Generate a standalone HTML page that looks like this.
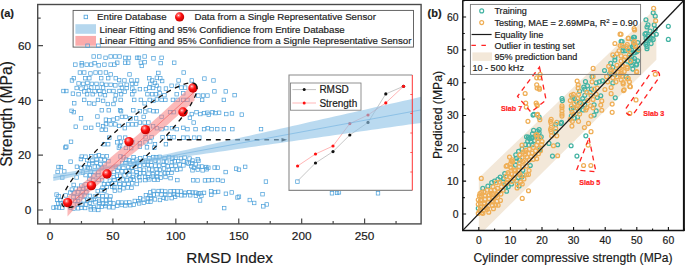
<!DOCTYPE html>
<html><head><meta charset="utf-8"><style>
html,body{margin:0;padding:0;background:#fff;}
svg{display:block;}
</style></head><body>
<svg xmlns="http://www.w3.org/2000/svg" width="685" height="265" viewBox="0 0 685 265">
<rect width="685" height="265" fill="#fff"/>
<defs>
<radialGradient id="sph" cx="0.38" cy="0.33" r="0.7">
<stop offset="0" stop-color="#fff"/>
<stop offset="0.12" stop-color="#ff8a8a"/>
<stop offset="0.45" stop-color="#ff1010"/>
<stop offset="1" stop-color="#c00000"/>
</radialGradient>
</defs>
<clipPath id="cl"><rect x="37.7" y="4.5" width="383.4" height="219.4"/></clipPath>
<g clip-path="url(#cl)" fill="none" stroke="#4ba0da" stroke-width="0.72"><rect x="91.91" y="54.74" width="3.5" height="3.5"/><rect x="97.57" y="54.74" width="3.5" height="3.5"/><rect x="103.8" y="56.06" width="3.5" height="3.5"/><rect x="108.89" y="54.74" width="3.5" height="3.5"/><rect x="113.61" y="54.74" width="3.5" height="3.5"/><rect x="117.76" y="54.74" width="3.5" height="3.5"/><rect x="123.42" y="56.06" width="3.5" height="3.5"/><rect x="127.19" y="56.06" width="3.5" height="3.5"/><rect x="135.31" y="56.06" width="3.5" height="3.5"/><rect x="73.61" y="62.85" width="3.5" height="3.5"/><rect x="80.02" y="61.34" width="3.5" height="3.5"/><rect x="80.02" y="63.61" width="3.5" height="3.5"/><rect x="84.93" y="62.85" width="3.5" height="3.5"/><rect x="89.46" y="62.85" width="3.5" height="3.5"/><rect x="92.85" y="61.34" width="3.5" height="3.5"/><rect x="97" y="63.61" width="3.5" height="3.5"/><rect x="102.67" y="62.85" width="3.5" height="3.5"/><rect x="108.89" y="62.85" width="3.5" height="3.5"/><rect x="112.67" y="62.85" width="3.5" height="3.5"/><rect x="115.5" y="60.97" width="3.5" height="3.5"/><rect x="123.42" y="60.97" width="3.5" height="3.5"/><rect x="126.44" y="60.97" width="3.5" height="3.5"/><rect x="78.14" y="70.78" width="3.5" height="3.5"/><rect x="82.48" y="70.78" width="3.5" height="3.5"/><rect x="88.7" y="71.72" width="3.5" height="3.5"/><rect x="93.8" y="70.78" width="3.5" height="3.5"/><rect x="98.51" y="70.78" width="3.5" height="3.5"/><rect x="104.17" y="70.78" width="3.5" height="3.5"/><rect x="108.89" y="72.67" width="3.5" height="3.5"/><rect x="127.76" y="72.67" width="3.5" height="3.5"/><rect x="72.1" y="76.44" width="3.5" height="3.5"/><rect x="70.21" y="78.7" width="3.5" height="3.5"/><rect x="83.42" y="76.44" width="3.5" height="3.5"/><rect x="87.57" y="76.44" width="3.5" height="3.5"/><rect x="99.46" y="76.44" width="3.5" height="3.5"/><rect x="106.44" y="76.44" width="3.5" height="3.5"/><rect x="113.99" y="76.44" width="3.5" height="3.5"/><rect x="117.38" y="78.33" width="3.5" height="3.5"/><rect x="122.67" y="78.7" width="3.5" height="3.5"/><rect x="129.65" y="78.7" width="3.5" height="3.5"/><rect x="135.31" y="78.7" width="3.5" height="3.5"/><rect x="76.82" y="81.72" width="3.5" height="3.5"/><rect x="81.53" y="82.1" width="3.5" height="3.5"/><rect x="85.68" y="81.16" width="3.5" height="3.5"/><rect x="90.02" y="82.1" width="3.5" height="3.5"/><rect x="94.74" y="82.1" width="3.5" height="3.5"/><rect x="100.02" y="82.1" width="3.5" height="3.5"/><rect x="104.55" y="83.04" width="3.5" height="3.5"/><rect x="108.89" y="83.04" width="3.5" height="3.5"/><rect x="113.61" y="83.61" width="3.5" height="3.5"/><rect x="118.89" y="83.04" width="3.5" height="3.5"/><rect x="124.93" y="83.04" width="3.5" height="3.5"/><rect x="130.21" y="82.1" width="3.5" height="3.5"/><rect x="134.36" y="82.1" width="3.5" height="3.5"/><rect x="74.93" y="86.25" width="3.5" height="3.5"/><rect x="79.65" y="86.82" width="3.5" height="3.5"/><rect x="84.36" y="85.87" width="3.5" height="3.5"/><rect x="89.46" y="85.87" width="3.5" height="3.5"/><rect x="95.68" y="85.87" width="3.5" height="3.5"/><rect x="101.34" y="85.87" width="3.5" height="3.5"/><rect x="120.21" y="85.87" width="3.5" height="3.5"/><rect x="124.93" y="86.25" width="3.5" height="3.5"/><rect x="130.59" y="86.82" width="3.5" height="3.5"/><rect x="61.72" y="89.27" width="3.5" height="3.5"/><rect x="64.55" y="89.27" width="3.5" height="3.5"/><rect x="82.48" y="89.65" width="3.5" height="3.5"/><rect x="87.19" y="88.7" width="3.5" height="3.5"/><rect x="92.85" y="89.65" width="3.5" height="3.5"/><rect x="97.57" y="89.27" width="3.5" height="3.5"/><rect x="102.29" y="90.02" width="3.5" height="3.5"/><rect x="107.57" y="89.27" width="3.5" height="3.5"/><rect x="111.72" y="89.27" width="3.5" height="3.5"/><rect x="117.76" y="89.27" width="3.5" height="3.5"/><rect x="123.04" y="90.02" width="3.5" height="3.5"/><rect x="132.48" y="89.27" width="3.5" height="3.5"/><rect x="71.16" y="91.91" width="3.5" height="3.5"/><rect x="76.82" y="92.48" width="3.5" height="3.5"/><rect x="85.31" y="92.48" width="3.5" height="3.5"/><rect x="90.97" y="92.48" width="3.5" height="3.5"/><rect x="98.51" y="92.48" width="3.5" height="3.5"/><rect x="103.23" y="93.42" width="3.5" height="3.5"/><rect x="113.99" y="93.42" width="3.5" height="3.5"/><rect x="119.27" y="92.48" width="3.5" height="3.5"/><rect x="130.59" y="92.48" width="3.5" height="3.5"/><rect x="137.19" y="56.06" width="3.5" height="3.5"/><rect x="142.85" y="54.74" width="3.5" height="3.5"/><rect x="142.85" y="60.4" width="3.5" height="3.5"/><rect x="139.08" y="60.97" width="3.5" height="3.5"/><rect x="140.02" y="64.17" width="3.5" height="3.5"/><rect x="151.72" y="56.63" width="3.5" height="3.5"/><rect x="159.83" y="56.06" width="3.5" height="3.5"/><rect x="158.89" y="61.34" width="3.5" height="3.5"/><rect x="172.48" y="60.97" width="3.5" height="3.5"/><rect x="156.63" y="71.16" width="3.5" height="3.5"/><rect x="181.91" y="70.78" width="3.5" height="3.5"/><rect x="147.57" y="76.44" width="3.5" height="3.5"/><rect x="150.4" y="78.7" width="3.5" height="3.5"/><rect x="155.12" y="76.06" width="3.5" height="3.5"/><rect x="158.51" y="76.44" width="3.5" height="3.5"/><rect x="160.4" y="79.27" width="3.5" height="3.5"/><rect x="176.82" y="78.7" width="3.5" height="3.5"/><rect x="190.02" y="78.7" width="3.5" height="3.5"/><rect x="202.67" y="76.82" width="3.5" height="3.5"/><rect x="211.72" y="78.7" width="3.5" height="3.5"/><rect x="138.14" y="87.38" width="3.5" height="3.5"/><rect x="144.17" y="87.38" width="3.5" height="3.5"/><rect x="147.57" y="85.87" width="3.5" height="3.5"/><rect x="151.34" y="86.25" width="3.5" height="3.5"/><rect x="155.12" y="83.99" width="3.5" height="3.5"/><rect x="157.38" y="86.82" width="3.5" height="3.5"/><rect x="164.17" y="86.82" width="3.5" height="3.5"/><rect x="169.83" y="83.99" width="3.5" height="3.5"/><rect x="175.87" y="83.99" width="3.5" height="3.5"/><rect x="179.65" y="85.87" width="3.5" height="3.5"/><rect x="183.42" y="85.87" width="3.5" height="3.5"/><rect x="153.23" y="81.16" width="3.5" height="3.5"/><rect x="148.51" y="82.1" width="3.5" height="3.5"/><rect x="145.68" y="92.48" width="3.5" height="3.5"/><rect x="150.4" y="92.48" width="3.5" height="3.5"/><rect x="154.17" y="92.48" width="3.5" height="3.5"/><rect x="157.95" y="91.53" width="3.5" height="3.5"/><rect x="174.93" y="92.48" width="3.5" height="3.5"/><rect x="181.53" y="91.53" width="3.5" height="3.5"/><rect x="196.63" y="93.8" width="3.5" height="3.5"/><rect x="201.34" y="93.8" width="3.5" height="3.5"/><rect x="205.68" y="93.8" width="3.5" height="3.5"/><rect x="212.67" y="89.65" width="3.5" height="3.5"/><rect x="223.99" y="89.65" width="3.5" height="3.5"/><rect x="232.85" y="93.42" width="3.5" height="3.5"/><rect x="162.67" y="93.42" width="3.5" height="3.5"/><rect x="72.48" y="101.53" width="3.5" height="3.5"/><rect x="82.48" y="98.14" width="3.5" height="3.5"/><rect x="87.57" y="101.53" width="3.5" height="3.5"/><rect x="92.48" y="101.91" width="3.5" height="3.5"/><rect x="96.25" y="98.14" width="3.5" height="3.5"/><rect x="101.34" y="99.08" width="3.5" height="3.5"/><rect x="106.06" y="102.29" width="3.5" height="3.5"/><rect x="111.72" y="102.29" width="3.5" height="3.5"/><rect x="113.23" y="97.76" width="3.5" height="3.5"/><rect x="118.89" y="98.14" width="3.5" height="3.5"/><rect x="132.48" y="98.14" width="3.5" height="3.5"/><rect x="69.83" y="109.08" width="3.5" height="3.5"/><rect x="72.1" y="110.4" width="3.5" height="3.5"/><rect x="79.27" y="116.63" width="3.5" height="3.5"/><rect x="95.68" y="114.74" width="3.5" height="3.5"/><rect x="100.02" y="108.51" width="3.5" height="3.5"/><rect x="107" y="108.51" width="3.5" height="3.5"/><rect x="118.33" y="108.51" width="3.5" height="3.5"/><rect x="119.27" y="109.46" width="3.5" height="3.5"/><rect x="131.53" y="108.51" width="3.5" height="3.5"/><rect x="104.17" y="117.95" width="3.5" height="3.5"/><rect x="107.57" y="118.51" width="3.5" height="3.5"/><rect x="111.72" y="117.95" width="3.5" height="3.5"/><rect x="115.5" y="116.63" width="3.5" height="3.5"/><rect x="120.21" y="115.12" width="3.5" height="3.5"/><rect x="123.99" y="115.12" width="3.5" height="3.5"/><rect x="128.7" y="116.63" width="3.5" height="3.5"/><rect x="134.36" y="116.63" width="3.5" height="3.5"/><rect x="73.99" y="124.93" width="3.5" height="3.5"/><rect x="83.8" y="126.06" width="3.5" height="3.5"/><rect x="89.46" y="126.06" width="3.5" height="3.5"/><rect x="96.25" y="123.04" width="3.5" height="3.5"/><rect x="101.34" y="124.55" width="3.5" height="3.5"/><rect x="104.17" y="122.29" width="3.5" height="3.5"/><rect x="108.89" y="122.67" width="3.5" height="3.5"/><rect x="113.61" y="122.67" width="3.5" height="3.5"/><rect x="117.38" y="124.17" width="3.5" height="3.5"/><rect x="123.04" y="126.44" width="3.5" height="3.5"/><rect x="126.44" y="122.67" width="3.5" height="3.5"/><rect x="130.59" y="122.67" width="3.5" height="3.5"/><rect x="134.36" y="122.67" width="3.5" height="3.5"/><rect x="100.02" y="127.95" width="3.5" height="3.5"/><rect x="104.17" y="127.95" width="3.5" height="3.5"/><rect x="107.57" y="135.87" width="3.5" height="3.5"/><rect x="117.76" y="135.87" width="3.5" height="3.5"/><rect x="123.42" y="135.87" width="3.5" height="3.5"/><rect x="69.27" y="140.02" width="3.5" height="3.5"/><rect x="64.55" y="144.93" width="3.5" height="3.5"/><rect x="102.29" y="142.48" width="3.5" height="3.5"/><rect x="106.44" y="142.48" width="3.5" height="3.5"/><rect x="115.5" y="140.59" width="3.5" height="3.5"/><rect x="119.27" y="140.02" width="3.5" height="3.5"/><rect x="118.33" y="144.36" width="3.5" height="3.5"/><rect x="130.59" y="140.59" width="3.5" height="3.5"/><rect x="139.08" y="98.14" width="3.5" height="3.5"/><rect x="142.85" y="101.53" width="3.5" height="3.5"/><rect x="147.95" y="98.14" width="3.5" height="3.5"/><rect x="151.72" y="99.08" width="3.5" height="3.5"/><rect x="155.12" y="97.76" width="3.5" height="3.5"/><rect x="159.83" y="98.14" width="3.5" height="3.5"/><rect x="163.61" y="98.14" width="3.5" height="3.5"/><rect x="171.16" y="98.14" width="3.5" height="3.5"/><rect x="175.87" y="98.14" width="3.5" height="3.5"/><rect x="181.53" y="98.14" width="3.5" height="3.5"/><rect x="185.68" y="98.14" width="3.5" height="3.5"/><rect x="200.4" y="98.14" width="3.5" height="3.5"/><rect x="222.1" y="98.14" width="3.5" height="3.5"/><rect x="138.14" y="109.46" width="3.5" height="3.5"/><rect x="143.42" y="109.83" width="3.5" height="3.5"/><rect x="147.95" y="108.51" width="3.5" height="3.5"/><rect x="151.72" y="109.46" width="3.5" height="3.5"/><rect x="155.12" y="109.46" width="3.5" height="3.5"/><rect x="159.83" y="115.12" width="3.5" height="3.5"/><rect x="168.33" y="110.4" width="3.5" height="3.5"/><rect x="172.1" y="110.4" width="3.5" height="3.5"/><rect x="141.91" y="115.12" width="3.5" height="3.5"/><rect x="190.02" y="112.29" width="3.5" height="3.5"/><rect x="194.74" y="110.4" width="3.5" height="3.5"/><rect x="198.51" y="112.29" width="3.5" height="3.5"/><rect x="202.29" y="111.34" width="3.5" height="3.5"/><rect x="205.68" y="110.97" width="3.5" height="3.5"/><rect x="207" y="112.85" width="3.5" height="3.5"/><rect x="210.78" y="110.4" width="3.5" height="3.5"/><rect x="213.61" y="111.34" width="3.5" height="3.5"/><rect x="217.38" y="110.97" width="3.5" height="3.5"/><rect x="224.55" y="112.29" width="3.5" height="3.5"/><rect x="230.21" y="111.72" width="3.5" height="3.5"/><rect x="188.14" y="116.06" width="3.5" height="3.5"/><rect x="191.91" y="120.78" width="3.5" height="3.5"/><rect x="138.14" y="120.78" width="3.5" height="3.5"/><rect x="142.85" y="120.78" width="3.5" height="3.5"/><rect x="146.63" y="120.78" width="3.5" height="3.5"/><rect x="151.34" y="124.55" width="3.5" height="3.5"/><rect x="155.12" y="126.44" width="3.5" height="3.5"/><rect x="159.83" y="127.38" width="3.5" height="3.5"/><rect x="164.55" y="126.44" width="3.5" height="3.5"/><rect x="170.21" y="126.44" width="3.5" height="3.5"/><rect x="174.93" y="127.38" width="3.5" height="3.5"/><rect x="181.53" y="126.06" width="3.5" height="3.5"/><rect x="185.68" y="127.38" width="3.5" height="3.5"/><rect x="193.8" y="127.38" width="3.5" height="3.5"/><rect x="202.29" y="127.38" width="3.5" height="3.5"/><rect x="206.06" y="126.44" width="3.5" height="3.5"/><rect x="209.83" y="127.38" width="3.5" height="3.5"/><rect x="215.5" y="127.38" width="3.5" height="3.5"/><rect x="222.1" y="127.38" width="3.5" height="3.5"/><rect x="230.59" y="127.38" width="3.5" height="3.5"/><rect x="143.8" y="135.5" width="3.5" height="3.5"/><rect x="149.83" y="135.5" width="3.5" height="3.5"/><rect x="160.78" y="135.5" width="3.5" height="3.5"/><rect x="167.38" y="135.5" width="3.5" height="3.5"/><rect x="172.1" y="135.5" width="3.5" height="3.5"/><rect x="181.53" y="135.87" width="3.5" height="3.5"/><rect x="185.68" y="135.87" width="3.5" height="3.5"/><rect x="192.48" y="135.87" width="3.5" height="3.5"/><rect x="197.57" y="135.87" width="3.5" height="3.5"/><rect x="138.14" y="141.53" width="3.5" height="3.5"/><rect x="143.8" y="140.59" width="3.5" height="3.5"/><rect x="148.51" y="139.65" width="3.5" height="3.5"/><rect x="153.23" y="142.48" width="3.5" height="3.5"/><rect x="164.17" y="142.48" width="3.5" height="3.5"/><rect x="138.14" y="144.93" width="3.5" height="3.5"/><rect x="240.02" y="112.85" width="3.5" height="3.5"/><rect x="259.27" y="127.38" width="3.5" height="3.5"/><rect x="243.42" y="165.12" width="3.5" height="3.5"/><rect x="237.19" y="167.95" width="3.5" height="3.5"/><rect x="264.17" y="179.83" width="3.5" height="3.5"/><rect x="295.68" y="179.83" width="3.5" height="3.5"/><rect x="260.78" y="192.48" width="3.5" height="3.5"/><rect x="237.19" y="194.93" width="3.5" height="3.5"/><rect x="330.21" y="191.53" width="3.5" height="3.5"/><rect x="335.31" y="191.16" width="3.5" height="3.5"/><rect x="248.03" y="198.27" width="3.5" height="3.5"/><rect x="252.45" y="201.22" width="3.5" height="3.5"/><rect x="261.58" y="204.6" width="3.5" height="3.5"/><rect x="264.97" y="202.69" width="3.5" height="3.5"/><rect x="337.19" y="190.59" width="3.5" height="3.5"/><rect x="376.25" y="191.53" width="3.5" height="3.5"/><rect x="63.64" y="145.76" width="3.5" height="3.5"/><rect x="68.84" y="159.9" width="3.5" height="3.5"/><rect x="56.76" y="165.19" width="3.5" height="3.5"/><rect x="59.2" y="165.39" width="3.5" height="3.5"/><rect x="55.87" y="170.17" width="3.5" height="3.5"/><rect x="62.52" y="169.69" width="3.5" height="3.5"/><rect x="60.52" y="175.73" width="3.5" height="3.5"/><rect x="75.15" y="164.99" width="3.5" height="3.5"/><rect x="79.36" y="166.01" width="3.5" height="3.5"/><rect x="83.22" y="165.63" width="3.5" height="3.5"/><rect x="79.98" y="154.85" width="3.5" height="3.5"/><rect x="83.73" y="154.93" width="3.5" height="3.5"/><rect x="79.15" y="157.32" width="3.5" height="3.5"/><rect x="74.82" y="175.72" width="3.5" height="3.5"/><rect x="81.19" y="170.77" width="3.5" height="3.5"/><rect x="85.97" y="165.86" width="3.5" height="3.5"/><rect x="83.83" y="173.34" width="3.5" height="3.5"/><rect x="117.12" y="145.84" width="3.5" height="3.5"/><rect x="124.17" y="146.15" width="3.5" height="3.5"/><rect x="129.45" y="146.37" width="3.5" height="3.5"/><rect x="89.46" y="154.54" width="3.5" height="3.5"/><rect x="94.04" y="154.44" width="3.5" height="3.5"/><rect x="97" y="153.61" width="3.5" height="3.5"/><rect x="100.81" y="154.69" width="3.5" height="3.5"/><rect x="105.13" y="154.53" width="3.5" height="3.5"/><rect x="118.78" y="154.69" width="3.5" height="3.5"/><rect x="121.72" y="155.58" width="3.5" height="3.5"/><rect x="131.8" y="155.47" width="3.5" height="3.5"/><rect x="85.42" y="158.36" width="3.5" height="3.5"/><rect x="90.68" y="158.89" width="3.5" height="3.5"/><rect x="94.84" y="157.86" width="3.5" height="3.5"/><rect x="99.13" y="157.6" width="3.5" height="3.5"/><rect x="102.88" y="158.06" width="3.5" height="3.5"/><rect x="106.65" y="159.41" width="3.5" height="3.5"/><rect x="124.46" y="157.69" width="3.5" height="3.5"/><rect x="127.02" y="158.41" width="3.5" height="3.5"/><rect x="131.37" y="159.47" width="3.5" height="3.5"/><rect x="134.98" y="157.82" width="3.5" height="3.5"/><rect x="87.36" y="162.32" width="3.5" height="3.5"/><rect x="90.67" y="161.37" width="3.5" height="3.5"/><rect x="94.89" y="160.89" width="3.5" height="3.5"/><rect x="98.65" y="162.46" width="3.5" height="3.5"/><rect x="102.73" y="162.39" width="3.5" height="3.5"/><rect x="120.35" y="161.28" width="3.5" height="3.5"/><rect x="123.75" y="161.35" width="3.5" height="3.5"/><rect x="128.56" y="161.96" width="3.5" height="3.5"/><rect x="133" y="162.33" width="3.5" height="3.5"/><rect x="135.32" y="161.3" width="3.5" height="3.5"/><rect x="87.97" y="166.58" width="3.5" height="3.5"/><rect x="93.01" y="164.89" width="3.5" height="3.5"/><rect x="96.22" y="165" width="3.5" height="3.5"/><rect x="100.28" y="166.02" width="3.5" height="3.5"/><rect x="114.11" y="165.05" width="3.5" height="3.5"/><rect x="117.02" y="165.66" width="3.5" height="3.5"/><rect x="121.63" y="166.13" width="3.5" height="3.5"/><rect x="126.64" y="165.65" width="3.5" height="3.5"/><rect x="129.81" y="166.2" width="3.5" height="3.5"/><rect x="134.06" y="164.75" width="3.5" height="3.5"/><rect x="88.95" y="169.73" width="3.5" height="3.5"/><rect x="92.86" y="170.41" width="3.5" height="3.5"/><rect x="96.61" y="170.51" width="3.5" height="3.5"/><rect x="111.92" y="170.18" width="3.5" height="3.5"/><rect x="115.81" y="169.13" width="3.5" height="3.5"/><rect x="120.03" y="169.52" width="3.5" height="3.5"/><rect x="124.22" y="169.37" width="3.5" height="3.5"/><rect x="127.57" y="168.85" width="3.5" height="3.5"/><rect x="131.05" y="169.54" width="3.5" height="3.5"/><rect x="134.87" y="170.52" width="3.5" height="3.5"/><rect x="88.43" y="173.46" width="3.5" height="3.5"/><rect x="91.74" y="173.74" width="3.5" height="3.5"/><rect x="96.56" y="173.43" width="3.5" height="3.5"/><rect x="111.94" y="175.3" width="3.5" height="3.5"/><rect x="115.21" y="173.93" width="3.5" height="3.5"/><rect x="118.49" y="174.06" width="3.5" height="3.5"/><rect x="122.91" y="173.63" width="3.5" height="3.5"/><rect x="127.74" y="173.48" width="3.5" height="3.5"/><rect x="130.91" y="175.25" width="3.5" height="3.5"/><rect x="135.11" y="173.46" width="3.5" height="3.5"/><rect x="87.65" y="177.25" width="3.5" height="3.5"/><rect x="91.58" y="178.58" width="3.5" height="3.5"/><rect x="96.8" y="178.19" width="3.5" height="3.5"/><rect x="100.33" y="178.39" width="3.5" height="3.5"/><rect x="108.08" y="178.95" width="3.5" height="3.5"/><rect x="112.69" y="178.3" width="3.5" height="3.5"/><rect x="116.29" y="177.52" width="3.5" height="3.5"/><rect x="121.11" y="177.93" width="3.5" height="3.5"/><rect x="125.14" y="178.34" width="3.5" height="3.5"/><rect x="129.04" y="177.59" width="3.5" height="3.5"/><rect x="131.93" y="177.94" width="3.5" height="3.5"/><rect x="145.22" y="145.59" width="3.5" height="3.5"/><rect x="152.55" y="145.94" width="3.5" height="3.5"/><rect x="138.46" y="156.41" width="3.5" height="3.5"/><rect x="143.67" y="155.41" width="3.5" height="3.5"/><rect x="147.59" y="156.43" width="3.5" height="3.5"/><rect x="151.58" y="155.3" width="3.5" height="3.5"/><rect x="154.22" y="155.37" width="3.5" height="3.5"/><rect x="158.13" y="155.07" width="3.5" height="3.5"/><rect x="162.86" y="156.31" width="3.5" height="3.5"/><rect x="167.21" y="155.46" width="3.5" height="3.5"/><rect x="170.83" y="156.56" width="3.5" height="3.5"/><rect x="173.76" y="155.97" width="3.5" height="3.5"/><rect x="179.2" y="156.54" width="3.5" height="3.5"/><rect x="182.87" y="155.72" width="3.5" height="3.5"/><rect x="136.99" y="159.85" width="3.5" height="3.5"/><rect x="141.23" y="159.86" width="3.5" height="3.5"/><rect x="146.33" y="159.96" width="3.5" height="3.5"/><rect x="149.27" y="160.07" width="3.5" height="3.5"/><rect x="153.81" y="158.98" width="3.5" height="3.5"/><rect x="156.69" y="159.61" width="3.5" height="3.5"/><rect x="162.04" y="159.87" width="3.5" height="3.5"/><rect x="164.64" y="159.9" width="3.5" height="3.5"/><rect x="170.1" y="160.32" width="3.5" height="3.5"/><rect x="172.92" y="159.51" width="3.5" height="3.5"/><rect x="176.48" y="159.42" width="3.5" height="3.5"/><rect x="181.95" y="159.65" width="3.5" height="3.5"/><rect x="185.11" y="160.71" width="3.5" height="3.5"/><rect x="138.11" y="163.92" width="3.5" height="3.5"/><rect x="142.77" y="163" width="3.5" height="3.5"/><rect x="145.7" y="162.85" width="3.5" height="3.5"/><rect x="149.64" y="163.52" width="3.5" height="3.5"/><rect x="153.63" y="163.95" width="3.5" height="3.5"/><rect x="157.35" y="163.97" width="3.5" height="3.5"/><rect x="161.71" y="163.08" width="3.5" height="3.5"/><rect x="166.08" y="164.63" width="3.5" height="3.5"/><rect x="169.75" y="163.99" width="3.5" height="3.5"/><rect x="173.85" y="164.1" width="3.5" height="3.5"/><rect x="177.85" y="162.73" width="3.5" height="3.5"/><rect x="181.66" y="163.62" width="3.5" height="3.5"/><rect x="138" y="167.78" width="3.5" height="3.5"/><rect x="142.26" y="167.98" width="3.5" height="3.5"/><rect x="147.21" y="167.44" width="3.5" height="3.5"/><rect x="150.45" y="168.04" width="3.5" height="3.5"/><rect x="154.82" y="167.76" width="3.5" height="3.5"/><rect x="157.97" y="168.1" width="3.5" height="3.5"/><rect x="162.18" y="166.78" width="3.5" height="3.5"/><rect x="167.08" y="168.03" width="3.5" height="3.5"/><rect x="170.66" y="167.72" width="3.5" height="3.5"/><rect x="175.25" y="167.94" width="3.5" height="3.5"/><rect x="178.67" y="167.37" width="3.5" height="3.5"/><rect x="138.25" y="171.59" width="3.5" height="3.5"/><rect x="142.1" y="171.36" width="3.5" height="3.5"/><rect x="146.76" y="171.93" width="3.5" height="3.5"/><rect x="151.12" y="172.5" width="3.5" height="3.5"/><rect x="155.52" y="170.98" width="3.5" height="3.5"/><rect x="158.78" y="171.94" width="3.5" height="3.5"/><rect x="163.25" y="171.47" width="3.5" height="3.5"/><rect x="165.91" y="171.23" width="3.5" height="3.5"/><rect x="169.78" y="170.95" width="3.5" height="3.5"/><rect x="137.46" y="175.51" width="3.5" height="3.5"/><rect x="143.36" y="175.17" width="3.5" height="3.5"/><rect x="146.18" y="175.58" width="3.5" height="3.5"/><rect x="151.05" y="174.77" width="3.5" height="3.5"/><rect x="155.41" y="175.27" width="3.5" height="3.5"/><rect x="158.83" y="175.91" width="3.5" height="3.5"/><rect x="163.77" y="175.26" width="3.5" height="3.5"/><rect x="168.79" y="176.4" width="3.5" height="3.5"/><rect x="138.28" y="178.48" width="3.5" height="3.5"/><rect x="143.53" y="178.35" width="3.5" height="3.5"/><rect x="147.58" y="177.66" width="3.5" height="3.5"/><rect x="152.48" y="177.9" width="3.5" height="3.5"/><rect x="156.14" y="177.83" width="3.5" height="3.5"/><rect x="175.62" y="178.34" width="3.5" height="3.5"/><rect x="187.79" y="156.82" width="3.5" height="3.5"/><rect x="190.74" y="158.8" width="3.5" height="3.5"/><rect x="196" y="157.46" width="3.5" height="3.5"/><rect x="196.75" y="159.11" width="3.5" height="3.5"/><rect x="186.74" y="161.81" width="3.5" height="3.5"/><rect x="190.45" y="161.56" width="3.5" height="3.5"/><rect x="194.03" y="162.66" width="3.5" height="3.5"/><rect x="189.46" y="164.38" width="3.5" height="3.5"/><rect x="192.22" y="165.97" width="3.5" height="3.5"/><rect x="196.93" y="165" width="3.5" height="3.5"/><rect x="200.02" y="164.76" width="3.5" height="3.5"/><rect x="204.4" y="165.27" width="3.5" height="3.5"/><rect x="206.59" y="165.99" width="3.5" height="3.5"/><rect x="212.88" y="165.8" width="3.5" height="3.5"/><rect x="215.84" y="165.88" width="3.5" height="3.5"/><rect x="190.75" y="168.53" width="3.5" height="3.5"/><rect x="196.06" y="167.79" width="3.5" height="3.5"/><rect x="200.86" y="168.62" width="3.5" height="3.5"/><rect x="204.96" y="167.5" width="3.5" height="3.5"/><rect x="223.9" y="170.29" width="3.5" height="3.5"/><rect x="234.36" y="166.88" width="3.5" height="3.5"/><rect x="191.38" y="178.55" width="3.5" height="3.5"/><rect x="195.81" y="178.69" width="3.5" height="3.5"/><rect x="203.21" y="178.67" width="3.5" height="3.5"/><rect x="206.7" y="178.52" width="3.5" height="3.5"/><rect x="210.38" y="178.29" width="3.5" height="3.5"/><rect x="216.14" y="178.29" width="3.5" height="3.5"/><rect x="220.97" y="179.04" width="3.5" height="3.5"/><rect x="54.82" y="192.82" width="3.5" height="3.5"/><rect x="56.82" y="194.55" width="3.5" height="3.5"/><rect x="63.87" y="193.69" width="3.5" height="3.5"/><rect x="55.37" y="198.21" width="3.5" height="3.5"/><rect x="58.48" y="198.41" width="3.5" height="3.5"/><rect x="56.38" y="201.71" width="3.5" height="3.5"/><rect x="59.05" y="201.5" width="3.5" height="3.5"/><rect x="51.79" y="205.85" width="3.5" height="3.5"/><rect x="54.55" y="205.44" width="3.5" height="3.5"/><rect x="57.22" y="205.8" width="3.5" height="3.5"/><rect x="60.54" y="205.99" width="3.5" height="3.5"/><rect x="68.79" y="205.84" width="3.5" height="3.5"/><rect x="71.78" y="206.79" width="3.5" height="3.5"/><rect x="76.49" y="206.55" width="3.5" height="3.5"/><rect x="79.39" y="205.96" width="3.5" height="3.5"/><rect x="83.37" y="206.26" width="3.5" height="3.5"/><rect x="71.91" y="183.15" width="3.5" height="3.5"/><rect x="79.36" y="183.88" width="3.5" height="3.5"/><rect x="83.93" y="182.64" width="3.5" height="3.5"/><rect x="70.09" y="187.84" width="3.5" height="3.5"/><rect x="74.17" y="186.99" width="3.5" height="3.5"/><rect x="77.57" y="187.02" width="3.5" height="3.5"/><rect x="81.72" y="187.19" width="3.5" height="3.5"/><rect x="84.52" y="186.53" width="3.5" height="3.5"/><rect x="68.34" y="190.81" width="3.5" height="3.5"/><rect x="72.45" y="191" width="3.5" height="3.5"/><rect x="76.32" y="190.48" width="3.5" height="3.5"/><rect x="80.75" y="190.11" width="3.5" height="3.5"/><rect x="84.56" y="190.53" width="3.5" height="3.5"/><rect x="71.66" y="195.32" width="3.5" height="3.5"/><rect x="75.56" y="195.63" width="3.5" height="3.5"/><rect x="78.93" y="194.2" width="3.5" height="3.5"/><rect x="83.3" y="193.95" width="3.5" height="3.5"/><rect x="73.59" y="199.26" width="3.5" height="3.5"/><rect x="76.33" y="199.53" width="3.5" height="3.5"/><rect x="81.81" y="198.58" width="3.5" height="3.5"/><rect x="85.48" y="198.84" width="3.5" height="3.5"/><rect x="75.18" y="202.39" width="3.5" height="3.5"/><rect x="79.79" y="202.83" width="3.5" height="3.5"/><rect x="84.29" y="202.82" width="3.5" height="3.5"/><rect x="102.23" y="182.46" width="3.5" height="3.5"/><rect x="106.37" y="182.18" width="3.5" height="3.5"/><rect x="110.17" y="181.65" width="3.5" height="3.5"/><rect x="113.95" y="181.71" width="3.5" height="3.5"/><rect x="117.86" y="182.38" width="3.5" height="3.5"/><rect x="122.64" y="182.48" width="3.5" height="3.5"/><rect x="126.71" y="182.16" width="3.5" height="3.5"/><rect x="130.43" y="181.61" width="3.5" height="3.5"/><rect x="134.94" y="182.26" width="3.5" height="3.5"/><rect x="100.77" y="185.92" width="3.5" height="3.5"/><rect x="105.01" y="185.26" width="3.5" height="3.5"/><rect x="110.42" y="184.86" width="3.5" height="3.5"/><rect x="112.53" y="185.54" width="3.5" height="3.5"/><rect x="118.33" y="185.45" width="3.5" height="3.5"/><rect x="121.64" y="186.53" width="3.5" height="3.5"/><rect x="125.82" y="185.7" width="3.5" height="3.5"/><rect x="129.75" y="186.12" width="3.5" height="3.5"/><rect x="95.97" y="189.33" width="3.5" height="3.5"/><rect x="99.7" y="188.57" width="3.5" height="3.5"/><rect x="102.77" y="188.82" width="3.5" height="3.5"/><rect x="113.07" y="188.89" width="3.5" height="3.5"/><rect x="118.03" y="188.48" width="3.5" height="3.5"/><rect x="88.1" y="194.12" width="3.5" height="3.5"/><rect x="93.16" y="194.71" width="3.5" height="3.5"/><rect x="97.12" y="194.15" width="3.5" height="3.5"/><rect x="100.79" y="194.39" width="3.5" height="3.5"/><rect x="104.66" y="193.91" width="3.5" height="3.5"/><rect x="108.73" y="194.68" width="3.5" height="3.5"/><rect x="89.75" y="198.35" width="3.5" height="3.5"/><rect x="91.98" y="197.68" width="3.5" height="3.5"/><rect x="97.38" y="199.06" width="3.5" height="3.5"/><rect x="100.67" y="198.08" width="3.5" height="3.5"/><rect x="104.2" y="198.36" width="3.5" height="3.5"/><rect x="108.16" y="197.85" width="3.5" height="3.5"/><rect x="88.24" y="201.07" width="3.5" height="3.5"/><rect x="93.66" y="200.52" width="3.5" height="3.5"/><rect x="97.38" y="201.05" width="3.5" height="3.5"/><rect x="101.46" y="201.98" width="3.5" height="3.5"/><rect x="104.24" y="202.26" width="3.5" height="3.5"/><rect x="108.65" y="201.03" width="3.5" height="3.5"/><rect x="111.74" y="201.69" width="3.5" height="3.5"/><rect x="116.5" y="200.76" width="3.5" height="3.5"/><rect x="119.9" y="200.82" width="3.5" height="3.5"/><rect x="124.18" y="200.86" width="3.5" height="3.5"/><rect x="127.57" y="200.73" width="3.5" height="3.5"/><rect x="133.03" y="199.19" width="3.5" height="3.5"/><rect x="136.49" y="199.36" width="3.5" height="3.5"/><rect x="88.95" y="205.36" width="3.5" height="3.5"/><rect x="91.96" y="205.51" width="3.5" height="3.5"/><rect x="97.04" y="205.12" width="3.5" height="3.5"/><rect x="99.85" y="204.9" width="3.5" height="3.5"/><rect x="103.66" y="204.36" width="3.5" height="3.5"/><rect x="107.3" y="205.47" width="3.5" height="3.5"/><rect x="111.59" y="205.61" width="3.5" height="3.5"/><rect x="115.48" y="204.01" width="3.5" height="3.5"/><rect x="119.91" y="203.24" width="3.5" height="3.5"/><rect x="123.62" y="203.66" width="3.5" height="3.5"/><rect x="128.5" y="203.45" width="3.5" height="3.5"/><rect x="132" y="202.94" width="3.5" height="3.5"/><rect x="89.02" y="207.7" width="3.5" height="3.5"/><rect x="92.58" y="207.66" width="3.5" height="3.5"/><rect x="96.56" y="208.23" width="3.5" height="3.5"/><rect x="148.58" y="190.69" width="3.5" height="3.5"/><rect x="151.7" y="189.19" width="3.5" height="3.5"/><rect x="156.81" y="189.3" width="3.5" height="3.5"/><rect x="159.95" y="189.21" width="3.5" height="3.5"/><rect x="163.59" y="189.76" width="3.5" height="3.5"/><rect x="168.77" y="189.49" width="3.5" height="3.5"/><rect x="172.15" y="189.55" width="3.5" height="3.5"/><rect x="175.93" y="189.68" width="3.5" height="3.5"/><rect x="179.19" y="189.75" width="3.5" height="3.5"/><rect x="183.22" y="191.05" width="3.5" height="3.5"/><rect x="144.16" y="193.39" width="3.5" height="3.5"/><rect x="148.85" y="194.08" width="3.5" height="3.5"/><rect x="151.99" y="192.88" width="3.5" height="3.5"/><rect x="155.49" y="192.55" width="3.5" height="3.5"/><rect x="159.71" y="192.81" width="3.5" height="3.5"/><rect x="163.48" y="192.52" width="3.5" height="3.5"/><rect x="168.04" y="193.01" width="3.5" height="3.5"/><rect x="172.32" y="192.34" width="3.5" height="3.5"/><rect x="175.67" y="193.16" width="3.5" height="3.5"/><rect x="179.56" y="193.56" width="3.5" height="3.5"/><rect x="182.96" y="193.47" width="3.5" height="3.5"/><rect x="138.41" y="196.56" width="3.5" height="3.5"/><rect x="141.53" y="197.92" width="3.5" height="3.5"/><rect x="146.14" y="196.68" width="3.5" height="3.5"/><rect x="149.03" y="196.47" width="3.5" height="3.5"/><rect x="153.22" y="197.66" width="3.5" height="3.5"/><rect x="158.18" y="198.23" width="3.5" height="3.5"/><rect x="161.99" y="196.15" width="3.5" height="3.5"/><rect x="164.43" y="196.71" width="3.5" height="3.5"/><rect x="169.94" y="196.38" width="3.5" height="3.5"/><rect x="173.35" y="195.06" width="3.5" height="3.5"/><rect x="137.37" y="201.64" width="3.5" height="3.5"/><rect x="142.11" y="200.88" width="3.5" height="3.5"/><rect x="146.33" y="200.03" width="3.5" height="3.5"/><rect x="148.74" y="199.9" width="3.5" height="3.5"/><rect x="187.61" y="190.48" width="3.5" height="3.5"/><rect x="191" y="190.8" width="3.5" height="3.5"/><rect x="193.77" y="190.86" width="3.5" height="3.5"/><rect x="196.73" y="191.88" width="3.5" height="3.5"/><rect x="198.61" y="191.54" width="3.5" height="3.5"/><rect x="202.26" y="191.07" width="3.5" height="3.5"/><rect x="188.49" y="193.51" width="3.5" height="3.5"/><rect x="194.16" y="194.1" width="3.5" height="3.5"/><rect x="199.69" y="194.06" width="3.5" height="3.5"/><rect x="209.3" y="189.62" width="3.5" height="3.5"/><rect x="213.34" y="190.34" width="3.5" height="3.5"/><rect x="216.39" y="190.1" width="3.5" height="3.5"/><rect x="209.52" y="193.1" width="3.5" height="3.5"/><rect x="224.15" y="192.01" width="3.5" height="3.5"/><rect x="229.95" y="190.69" width="3.5" height="3.5"/><rect x="235.75" y="195.73" width="3.5" height="3.5"/><rect x="198.31" y="198.71" width="3.5" height="3.5"/><rect x="222.44" y="206.34" width="3.5" height="3.5"/></g>
<polyline points="297.6,181 315.5,163 333,151.6 349.8,135 368,122.4 385.8,93.9 403.5,86.3" fill="none" stroke="#999" stroke-width="0.55"/>
<circle cx="315.5" cy="163" r="1.6" fill="#111"/>
<circle cx="333" cy="151.6" r="1.6" fill="#111"/>
<circle cx="349.8" cy="135" r="1.6" fill="#111"/>
<circle cx="368" cy="122.4" r="1.6" fill="#111"/>
<circle cx="385.8" cy="93.9" r="1.6" fill="#111"/>
<circle cx="403.5" cy="86.3" r="1.6" fill="#111"/>
<polyline points="297.6,166 315.5,154 333,146 349.8,123.6 368,115 385.8,102.9 403.5,86.3" fill="none" stroke="#f77" stroke-width="0.55"/>
<circle cx="297.6" cy="166" r="1.6" fill="#f11"/>
<circle cx="315.5" cy="154" r="1.6" fill="#f11"/>
<circle cx="333" cy="146" r="1.6" fill="#f11"/>
<circle cx="349.8" cy="123.6" r="1.6" fill="#f11"/>
<circle cx="368" cy="115" r="1.6" fill="#f11"/>
<circle cx="385.8" cy="102.9" r="1.6" fill="#f11"/>
<circle cx="403.5" cy="86.3" r="1.6" fill="#f11"/>
<line x1="166" y1="139.7" x2="281" y2="139.7" stroke="#111" stroke-width="1.5" stroke-dasharray="4.8 4.9" stroke-dashoffset="-1.3"/>
<polygon points="281.5,137.9 287.2,139.8 281.5,141.7" fill="#111"/>
<polygon clip-path="url(#cl)" points="53.3,174.31 59.43,173.4 65.56,172.48 71.69,171.55 77.82,170.61 83.95,169.65 90.08,168.68 96.21,167.69 102.34,166.67 108.47,165.63 114.6,164.55 120.73,163.43 126.86,162.28 132.99,161.09 139.12,159.87 145.25,158.62 151.38,157.34 157.51,156.05 163.64,154.74 169.77,153.41 175.9,152.08 182.03,150.74 188.16,149.39 194.29,148.03 200.42,146.67 206.55,145.31 212.68,143.94 218.81,142.57 224.94,141.2 231.07,139.83 237.2,138.45 243.33,137.08 249.46,135.7 255.59,134.32 261.72,132.94 267.85,131.56 273.98,130.17 280.11,128.79 286.24,127.41 292.37,126.02 298.5,124.64 304.63,123.25 310.76,121.86 316.89,120.48 323.02,119.09 329.15,117.71 335.28,116.32 341.41,114.93 347.54,113.54 353.67,112.15 359.8,110.77 365.93,109.38 372.06,107.99 378.19,106.6 384.32,105.21 390.45,103.82 396.58,102.43 402.71,101.04 408.84,99.65 414.97,98.26 421.1,96.87 421.1,122.88 414.97,123.75 408.84,124.62 402.71,125.49 396.58,126.37 390.45,127.24 384.32,128.11 378.19,128.98 372.06,129.85 365.93,130.72 359.8,131.6 353.67,132.47 347.54,133.34 341.41,134.21 335.28,135.09 329.15,135.96 323.02,136.84 316.89,137.71 310.76,138.58 304.63,139.46 298.5,140.33 292.37,141.21 286.24,142.09 280.11,142.96 273.98,143.84 267.85,144.72 261.72,145.6 255.59,146.48 249.46,147.36 243.33,148.24 237.2,149.12 231.07,150.01 224.94,150.9 218.81,151.79 212.68,152.68 206.55,153.57 200.42,154.47 194.29,155.37 188.16,156.27 182.03,157.19 175.9,158.1 169.77,159.03 163.64,159.97 157.51,160.92 151.38,161.89 145.25,162.87 139.12,163.88 132.99,164.92 126.86,165.99 120.73,167.1 114.6,168.24 108.47,169.42 102.34,170.64 96.21,171.88 90.08,173.15 83.95,174.44 77.82,175.75 71.69,177.07 65.56,178.4 59.43,179.74 53.3,181.09" fill="#8fc3e6" fill-opacity="0.62"/>
<line x1="53.3" y1="177.7" x2="421" y2="109.9" stroke="#6eb0df" stroke-width="0.6"/>
<polygon points="67.5,196.5 90,177 110,158 137.5,135 160,115 194.5,83 194.5,100.5 178.4,115 156.2,135 125,160 100,183 90.6,191 67.5,216.4" fill="#f77f7f" fill-opacity="0.55"/>
<line x1="67.5" y1="206.5" x2="194.5" y2="91.8" stroke="#f05050" stroke-width="0.6"/>
<circle cx="67.6" cy="202.6" r="4.7" fill="url(#sph)"/>
<circle cx="91.4" cy="185.6" r="4.7" fill="url(#sph)"/>
<circle cx="107" cy="174" r="4.7" fill="url(#sph)"/>
<circle cx="129" cy="141.6" r="4.7" fill="url(#sph)"/>
<circle cx="145.4" cy="129.6" r="4.7" fill="url(#sph)"/>
<circle cx="183" cy="112" r="4.7" fill="url(#sph)"/>
<circle cx="193" cy="88" r="4.7" fill="url(#sph)"/>
<ellipse cx="129.4" cy="145.2" rx="90" ry="19.3" transform="rotate(-42.4 129.4 145.2)" fill="none" stroke="#111" stroke-width="1.3" stroke-dasharray="4.9 4.5"/>
<path d="M412.3 75H289V190.4H412.3" fill="none" stroke="#8a8a8a" stroke-width="1.1"/>
<path d="M412.3 75V190.4" fill="none" stroke="#f33" stroke-width="1"/>
<path d="M412.3 94.5h-2M412.3 113.5h-2M412.3 133h-2M412.3 152.5h-2M412.3 172h-2" stroke="#f33" stroke-width="0.8"/>
<rect x="290.4" y="83" width="70.6" height="27.2" fill="#fff" stroke="#777" stroke-width="0.8"/>
<line x1="292.4" y1="89.6" x2="316" y2="89.6" stroke="#999" stroke-width="0.6"/>
<circle cx="304.2" cy="89.6" r="1.5" fill="#111"/>
<line x1="292.4" y1="103" x2="316" y2="103" stroke="#f88" stroke-width="0.6"/>
<circle cx="304.2" cy="103" r="1.5" fill="#f11"/>
<g font-family="Liberation Sans, sans-serif" stroke-width="0.18" font-size="10" fill="#1a1a1a" stroke="#1a1a1a">
<text x="319.4" y="93.3">RMSD</text>
<text x="319.4" y="106.7">Strength</text>
</g>
<rect x="73.1" y="10.4" width="340.4" height="36.7" fill="#fff" stroke="#555" stroke-width="0.9"/>
<rect x="84.1" y="15.2" width="3.5" height="3.5" fill="none" stroke="#4ba0da" stroke-width="0.8"/>
<circle cx="179.6" cy="16.9" r="4.6" fill="url(#sph)"/>
<rect x="75.4" y="24.2" width="20.6" height="9.6" fill="#b5d7ee"/>
<rect x="75.4" y="35.9" width="20.6" height="9.8" fill="#fbabab"/>
<g font-family="Liberation Sans, sans-serif" stroke-width="0.18" font-size="9.7" fill="#222" stroke="#222">
<text x="97.1" y="20.4">Entire Database</text>
<text x="194.4" y="20.4">Data from a Single Representative Sensor</text>
<text x="99.6" y="32.5">Linear Fitting and 95% Confidience from Entire Database</text>
<text x="99.6" y="44.2">Linear Fitting and 95% Confidience from a Signle Representative Sensor</text>
</g>
<g fill="none" stroke="#4ba0da" stroke-width="0.72"><rect x="85.8" y="44" width="3.6" height="3.6"/><rect x="96.6" y="44" width="3.6" height="3.6"/></g>
<rect x="37.7" y="4.5" width="383.4" height="219.4" fill="none" stroke="#4a4a4a" stroke-width="1.4"/>
<path d="M37.7 210h5.3M37.7 182.6h3M37.7 155.2h5.3M37.7 127.8h3M37.7 100.4h5.3M37.7 73h3M37.7 45.6h5.3M37.7 18.2h3M50 223.9v-5.3M81.46 223.9v-3M112.92 223.9v-5.3M144.38 223.9v-3M175.84 223.9v-5.3M207.3 223.9v-3M238.76 223.9v-5.3M270.22 223.9v-3M301.68 223.9v-5.3M333.14 223.9v-3M364.6 223.9v-5.3M396.06 223.9v-3" stroke="#4a4a4a" stroke-width="1.2" fill="none"/>
<g font-family="Liberation Sans, sans-serif" stroke-width="0.18" font-size="11.8" fill="#1a1a1a" stroke="#1a1a1a">
<text x="31.2" y="214.2" text-anchor="end">0</text>
<text x="31.2" y="159.4" text-anchor="end">20</text>
<text x="31.2" y="104.6" text-anchor="end">40</text>
<text x="31.2" y="49.8" text-anchor="end">60</text>
<text x="50" y="240.1" text-anchor="middle">0</text>
<text x="112.92" y="240.1" text-anchor="middle">50</text>
<text x="175.84" y="240.1" text-anchor="middle">100</text>
<text x="238.76" y="240.1" text-anchor="middle">150</text>
<text x="301.68" y="240.1" text-anchor="middle">200</text>
<text x="364.6" y="240.1" text-anchor="middle">250</text>
</g>
<text font-family="Liberation Sans, sans-serif" stroke-width="0.18" font-size="15.3" x="229.5" y="262.8" text-anchor="middle" fill="#1a1a1a" stroke="#1a1a1a">RMSD Index</text>
<text font-family="Liberation Sans, sans-serif" stroke-width="0.18" font-size="15.6" transform="translate(12.2 114) rotate(-90)" text-anchor="middle" fill="#1a1a1a" stroke="#1a1a1a">Strength (MPa)</text>
<text font-family="Liberation Sans, sans-serif" stroke-width="0.18" font-size="11" font-weight="bold" x="0.6" y="17.4" fill="#1a1a1a" stroke="#1a1a1a">(a)</text>
<clipPath id="cr"><rect x="462.8" y="0.3" width="221.1" height="230.1"/></clipPath>
<polygon clip-path="url(#cr)" points="478.8,235.67 478.8,178.02 656.39,7.72 656.39,59.83" fill="#f3e8d9"/>
<g clip-path="url(#cr)" fill="none" stroke-width="1.25"><circle cx="633.57" cy="37.26" r="1.95" stroke="#43b3a3"/><circle cx="621.12" cy="41.41" r="1.95" stroke="#43b3a3"/><circle cx="631.49" cy="49.71" r="1.95" stroke="#43b3a3"/><circle cx="625.27" cy="50.75" r="1.95" stroke="#43b3a3"/><circle cx="634.61" cy="52.82" r="1.95" stroke="#43b3a3"/><circle cx="637.72" cy="50.75" r="1.95" stroke="#43b3a3"/><circle cx="627.34" cy="61.12" r="1.95" stroke="#43b3a3"/><circle cx="614.9" cy="60.08" r="1.95" stroke="#43b3a3"/><circle cx="610.75" cy="63.2" r="1.95" stroke="#43b3a3"/><circle cx="631.49" cy="65.27" r="1.95" stroke="#43b3a3"/><circle cx="636.68" cy="64.23" r="1.95" stroke="#43b3a3"/><circle cx="604.52" cy="70.46" r="1.95" stroke="#43b3a3"/><circle cx="609.71" cy="73.57" r="1.95" stroke="#43b3a3"/><circle cx="592.07" cy="76.68" r="1.95" stroke="#43b3a3"/><circle cx="599.34" cy="81.87" r="1.95" stroke="#43b3a3"/><circle cx="644.98" cy="34.15" r="1.95" stroke="#43b3a3"/><circle cx="646.02" cy="38.3" r="1.95" stroke="#43b3a3"/><circle cx="646.02" cy="42.45" r="1.95" stroke="#43b3a3"/><circle cx="647.05" cy="46.6" r="1.95" stroke="#43b3a3"/><circle cx="649.13" cy="38.3" r="1.95" stroke="#43b3a3"/><circle cx="561.97" cy="98.49" r="1.95" stroke="#43b3a3"/><circle cx="561.56" cy="122.34" r="1.95" stroke="#43b3a3"/><circle cx="560.93" cy="123.38" r="1.95" stroke="#43b3a3"/><circle cx="571.31" cy="116.12" r="1.95" stroke="#43b3a3"/><circle cx="576.49" cy="101.6" r="1.95" stroke="#43b3a3"/><circle cx="578.57" cy="110.93" r="1.95" stroke="#43b3a3"/><circle cx="577.53" cy="117.16" r="1.95" stroke="#43b3a3"/><circle cx="584.79" cy="89.15" r="1.95" stroke="#43b3a3"/><circle cx="584.79" cy="95.37" r="1.95" stroke="#43b3a3"/><circle cx="584.38" cy="101.6" r="1.95" stroke="#43b3a3"/><circle cx="583.13" cy="109.9" r="1.95" stroke="#43b3a3"/><circle cx="591.43" cy="89.15" r="1.95" stroke="#43b3a3"/><circle cx="597.24" cy="97.45" r="1.95" stroke="#43b3a3"/><circle cx="594.13" cy="115.08" r="1.95" stroke="#43b3a3"/><circle cx="585.83" cy="135.83" r="1.95" stroke="#43b3a3"/><circle cx="539.15" cy="117.16" r="1.95" stroke="#43b3a3"/><circle cx="539.15" cy="132.72" r="1.95" stroke="#43b3a3"/><circle cx="574.42" cy="98.49" r="1.95" stroke="#43b3a3"/><circle cx="573.38" cy="107.82" r="1.95" stroke="#43b3a3"/><circle cx="594.13" cy="104.71" r="1.95" stroke="#43b3a3"/><circle cx="653.2" cy="12.86" r="1.95" stroke="#43b3a3"/><circle cx="655.27" cy="16.18" r="1.95" stroke="#43b3a3"/><circle cx="654.23" cy="24.9" r="1.95" stroke="#43b3a3"/><circle cx="655.27" cy="29.05" r="1.95" stroke="#43b3a3"/><circle cx="656.31" cy="34.23" r="1.95" stroke="#43b3a3"/><circle cx="653.2" cy="35.27" r="1.95" stroke="#43b3a3"/><circle cx="653.2" cy="39.42" r="1.95" stroke="#43b3a3"/><circle cx="645.93" cy="19.71" r="1.95" stroke="#43b3a3"/><circle cx="648.01" cy="24.9" r="1.95" stroke="#43b3a3"/><circle cx="646.97" cy="26.97" r="1.95" stroke="#43b3a3"/><circle cx="645.93" cy="33.2" r="1.95" stroke="#43b3a3"/><circle cx="648.01" cy="36.31" r="1.95" stroke="#43b3a3"/><circle cx="646.97" cy="40.46" r="1.95" stroke="#43b3a3"/><circle cx="645.93" cy="44.61" r="1.95" stroke="#43b3a3"/><circle cx="646.97" cy="48.76" r="1.95" stroke="#43b3a3"/><circle cx="651.12" cy="38.38" r="1.95" stroke="#43b3a3"/><circle cx="651.12" cy="43.57" r="1.95" stroke="#43b3a3"/><circle cx="650.08" cy="31.12" r="1.95" stroke="#43b3a3"/><circle cx="668.34" cy="26.35" r="1.95" stroke="#43b3a3"/><circle cx="668.34" cy="39.42" r="1.95" stroke="#43b3a3"/><circle cx="634.52" cy="37.34" r="1.95" stroke="#43b3a3"/><circle cx="633.49" cy="44.61" r="1.95" stroke="#43b3a3"/><circle cx="629.34" cy="47.72" r="1.95" stroke="#43b3a3"/><circle cx="622.07" cy="41.49" r="1.95" stroke="#43b3a3"/><circle cx="623.11" cy="50.83" r="1.95" stroke="#43b3a3"/><circle cx="630.37" cy="51.87" r="1.95" stroke="#43b3a3"/><circle cx="636.6" cy="51.87" r="1.95" stroke="#43b3a3"/><circle cx="629.34" cy="57.63" r="1.95" stroke="#43b3a3"/><circle cx="634.52" cy="58.67" r="1.95" stroke="#43b3a3"/><circle cx="630.37" cy="62.82" r="1.95" stroke="#43b3a3"/><circle cx="636.18" cy="64.9" r="1.95" stroke="#43b3a3"/><circle cx="632.86" cy="69.05" r="1.95" stroke="#43b3a3"/><circle cx="637.63" cy="60.75" r="1.95" stroke="#43b3a3"/><circle cx="600.75" cy="95.75" r="1.95" stroke="#43b3a3"/><circle cx="615.27" cy="97.82" r="1.95" stroke="#43b3a3"/><circle cx="557.63" cy="144.71" r="1.95" stroke="#43b3a3"/><circle cx="552.45" cy="156.12" r="1.95" stroke="#43b3a3"/><circle cx="571.12" cy="145.75" r="1.95" stroke="#43b3a3"/><circle cx="576.93" cy="156.12" r="1.95" stroke="#43b3a3"/><circle cx="540" cy="149.9" r="1.95" stroke="#43b3a3"/><circle cx="487.89" cy="186.13" r="1.95" stroke="#43b3a3"/><circle cx="505.45" cy="187.27" r="1.95" stroke="#43b3a3"/><circle cx="508.28" cy="186.7" r="1.95" stroke="#43b3a3"/><circle cx="482.8" cy="188.4" r="1.95" stroke="#43b3a3"/><circle cx="506.58" cy="191.23" r="1.95" stroke="#43b3a3"/><circle cx="478.27" cy="208.22" r="1.95" stroke="#43b3a3"/><circle cx="516.05" cy="161.13" r="1.95" stroke="#43b3a3"/><circle cx="515.48" cy="165.1" r="1.95" stroke="#43b3a3"/><circle cx="522.84" cy="170.19" r="1.95" stroke="#43b3a3"/><circle cx="504.72" cy="173.59" r="1.95" stroke="#43b3a3"/><circle cx="522.84" cy="174.72" r="1.95" stroke="#43b3a3"/><circle cx="518.31" cy="177.55" r="1.95" stroke="#43b3a3"/><circle cx="521.71" cy="176.99" r="1.95" stroke="#43b3a3"/><circle cx="503.59" cy="178.69" r="1.95" stroke="#43b3a3"/><circle cx="516.61" cy="180.95" r="1.95" stroke="#43b3a3"/><circle cx="500.19" cy="176.99" r="1.95" stroke="#43b3a3"/><circle cx="497.93" cy="179.25" r="1.95" stroke="#43b3a3"/><circle cx="494.53" cy="180.95" r="1.95" stroke="#43b3a3"/><circle cx="491.7" cy="182.65" r="1.95" stroke="#43b3a3"/><circle cx="503.02" cy="182.08" r="1.95" stroke="#43b3a3"/><circle cx="511.52" cy="184.01" r="1.95" stroke="#43b3a3"/><circle cx="526.52" cy="136.7" r="1.95" stroke="#43b3a3"/><circle cx="529.35" cy="138.4" r="1.95" stroke="#43b3a3"/><circle cx="532.75" cy="137.27" r="1.95" stroke="#43b3a3"/><circle cx="535.58" cy="136.13" r="1.95" stroke="#43b3a3"/><circle cx="537.84" cy="138.4" r="1.95" stroke="#43b3a3"/><circle cx="527.65" cy="141.23" r="1.95" stroke="#43b3a3"/><circle cx="531.05" cy="141.8" r="1.95" stroke="#43b3a3"/><circle cx="534.45" cy="140.66" r="1.95" stroke="#43b3a3"/><circle cx="525.39" cy="144.63" r="1.95" stroke="#43b3a3"/><circle cx="528.78" cy="145.19" r="1.95" stroke="#43b3a3"/><circle cx="532.18" cy="144.63" r="1.95" stroke="#43b3a3"/><circle cx="521.99" cy="149.16" r="1.95" stroke="#43b3a3"/><circle cx="518.59" cy="151.42" r="1.95" stroke="#43b3a3"/><circle cx="515.76" cy="154.82" r="1.95" stroke="#43b3a3"/><circle cx="516.33" cy="158.22" r="1.95" stroke="#43b3a3"/><circle cx="519.72" cy="159.92" r="1.95" stroke="#43b3a3"/><circle cx="533.02" cy="115.1" r="1.95" stroke="#43b3a3"/><circle cx="533.59" cy="130.39" r="1.95" stroke="#43b3a3"/><circle cx="532.46" cy="133.78" r="1.95" stroke="#43b3a3"/><circle cx="528.49" cy="137.18" r="1.95" stroke="#43b3a3"/><circle cx="531.33" cy="138.31" r="1.95" stroke="#43b3a3"/><circle cx="537.55" cy="130.95" r="1.95" stroke="#43b3a3"/><circle cx="548.98" cy="143.4" r="1.95" stroke="#43b3a3"/><circle cx="530.29" cy="165.48" r="1.95" stroke="#43b3a3"/><circle cx="519.15" cy="185.93" r="1.95" stroke="#43b3a3"/><circle cx="585.46" cy="81.68" r="1.95" stroke="#43b3a3"/><circle cx="587.53" cy="85.83" r="1.95" stroke="#43b3a3"/><circle cx="533.87" cy="114.43" r="1.95" stroke="#43b3a3"/><circle cx="562.39" cy="100.56" r="1.95" stroke="#43b3a3"/><circle cx="572.34" cy="97.45" r="1.95" stroke="#43b3a3"/><circle cx="571.31" cy="108.86" r="1.95" stroke="#43b3a3"/><circle cx="574.42" cy="118.2" r="1.95" stroke="#43b3a3"/><circle cx="579.61" cy="91.22" r="1.95" stroke="#43b3a3"/><circle cx="579.61" cy="102.63" r="1.95" stroke="#43b3a3"/><circle cx="583.76" cy="87.07" r="1.95" stroke="#43b3a3"/><circle cx="582.72" cy="98.49" r="1.95" stroke="#43b3a3"/><circle cx="584.79" cy="104.71" r="1.95" stroke="#43b3a3"/><circle cx="589.98" cy="92.26" r="1.95" stroke="#43b3a3"/><circle cx="596.2" cy="110.93" r="1.95" stroke="#43b3a3"/><circle cx="555.75" cy="124.42" r="1.95" stroke="#43b3a3"/><circle cx="555.75" cy="131.68" r="1.95" stroke="#43b3a3"/><circle cx="539.15" cy="129.61" r="1.95" stroke="#43b3a3"/><circle cx="541.22" cy="136.87" r="1.95" stroke="#43b3a3"/><circle cx="632.53" cy="39.34" r="1.95" stroke="#43b3a3"/><circle cx="637.72" cy="42.45" r="1.95" stroke="#43b3a3"/><circle cx="623.2" cy="47.63" r="1.95" stroke="#43b3a3"/><circle cx="632.53" cy="46.6" r="1.95" stroke="#43b3a3"/><circle cx="631.49" cy="56.97" r="1.95" stroke="#43b3a3"/><circle cx="634.61" cy="61.12" r="1.95" stroke="#43b3a3"/><circle cx="614.9" cy="56.97" r="1.95" stroke="#43b3a3"/><circle cx="612.82" cy="67.34" r="1.95" stroke="#43b3a3"/><circle cx="614.9" cy="74.61" r="1.95" stroke="#43b3a3"/><circle cx="626.31" cy="76.68" r="1.95" stroke="#43b3a3"/><circle cx="612.82" cy="82.9" r="1.95" stroke="#43b3a3"/><circle cx="596.22" cy="82.9" r="1.95" stroke="#43b3a3"/><circle cx="602.45" cy="80.83" r="1.95" stroke="#43b3a3"/><circle cx="620.08" cy="34.15" r="1.95" stroke="#efae55"/><circle cx="634.61" cy="30" r="1.95" stroke="#efae55"/><circle cx="628.38" cy="38.3" r="1.95" stroke="#efae55"/><circle cx="614.9" cy="43.49" r="1.95" stroke="#efae55"/><circle cx="620.08" cy="45.56" r="1.95" stroke="#efae55"/><circle cx="626.31" cy="46.6" r="1.95" stroke="#efae55"/><circle cx="633.57" cy="42.45" r="1.95" stroke="#efae55"/><circle cx="635.64" cy="45.56" r="1.95" stroke="#efae55"/><circle cx="619.05" cy="50.75" r="1.95" stroke="#efae55"/><circle cx="612.82" cy="54.9" r="1.95" stroke="#efae55"/><circle cx="621.12" cy="55.93" r="1.95" stroke="#efae55"/><circle cx="629.42" cy="54.9" r="1.95" stroke="#efae55"/><circle cx="621.12" cy="61.12" r="1.95" stroke="#efae55"/><circle cx="616.97" cy="65.27" r="1.95" stroke="#efae55"/><circle cx="623.2" cy="66.31" r="1.95" stroke="#efae55"/><circle cx="636.68" cy="71.49" r="1.95" stroke="#efae55"/><circle cx="627.34" cy="68.38" r="1.95" stroke="#efae55"/><circle cx="610.75" cy="69.42" r="1.95" stroke="#efae55"/><circle cx="614.9" cy="71.49" r="1.95" stroke="#efae55"/><circle cx="621.12" cy="71.49" r="1.95" stroke="#efae55"/><circle cx="606.6" cy="76.68" r="1.95" stroke="#efae55"/><circle cx="612.82" cy="77.72" r="1.95" stroke="#efae55"/><circle cx="616.97" cy="76.68" r="1.95" stroke="#efae55"/><circle cx="621.12" cy="79.79" r="1.95" stroke="#efae55"/><circle cx="627.34" cy="78.76" r="1.95" stroke="#efae55"/><circle cx="629.42" cy="81.87" r="1.95" stroke="#efae55"/><circle cx="615.93" cy="81.87" r="1.95" stroke="#efae55"/><circle cx="593.11" cy="68.38" r="1.95" stroke="#efae55"/><circle cx="592.07" cy="81.87" r="1.95" stroke="#efae55"/><circle cx="561.97" cy="105.75" r="1.95" stroke="#efae55"/><circle cx="561.97" cy="110.93" r="1.95" stroke="#efae55"/><circle cx="561.97" cy="116.12" r="1.95" stroke="#efae55"/><circle cx="551.18" cy="119.23" r="1.95" stroke="#efae55"/><circle cx="551.18" cy="123.38" r="1.95" stroke="#efae55"/><circle cx="551.18" cy="127.53" r="1.95" stroke="#efae55"/><circle cx="551.18" cy="131.68" r="1.95" stroke="#efae55"/><circle cx="551.6" cy="135.83" r="1.95" stroke="#efae55"/><circle cx="556.78" cy="122.34" r="1.95" stroke="#efae55"/><circle cx="555.75" cy="128.57" r="1.95" stroke="#efae55"/><circle cx="556.78" cy="135.83" r="1.95" stroke="#efae55"/><circle cx="571.31" cy="95.37" r="1.95" stroke="#efae55"/><circle cx="570.27" cy="100.56" r="1.95" stroke="#efae55"/><circle cx="571.31" cy="105.75" r="1.95" stroke="#efae55"/><circle cx="571.93" cy="111.97" r="1.95" stroke="#efae55"/><circle cx="572.34" cy="121.31" r="1.95" stroke="#efae55"/><circle cx="571.93" cy="126.08" r="1.95" stroke="#efae55"/><circle cx="578.15" cy="88.11" r="1.95" stroke="#efae55"/><circle cx="578.57" cy="94.34" r="1.95" stroke="#efae55"/><circle cx="577.53" cy="105.75" r="1.95" stroke="#efae55"/><circle cx="578.57" cy="121.31" r="1.95" stroke="#efae55"/><circle cx="584.38" cy="127.53" r="1.95" stroke="#efae55"/><circle cx="591.02" cy="95.37" r="1.95" stroke="#efae55"/><circle cx="590.6" cy="105.75" r="1.95" stroke="#efae55"/><circle cx="591.02" cy="116.12" r="1.95" stroke="#efae55"/><circle cx="588.53" cy="123.38" r="1.95" stroke="#efae55"/><circle cx="597.24" cy="88.11" r="1.95" stroke="#efae55"/><circle cx="591.02" cy="131.68" r="1.95" stroke="#efae55"/><circle cx="537.07" cy="88.11" r="1.95" stroke="#efae55"/><circle cx="539.15" cy="88.11" r="1.95" stroke="#efae55"/><circle cx="537.07" cy="104.71" r="1.95" stroke="#efae55"/><circle cx="537.07" cy="115.08" r="1.95" stroke="#efae55"/><circle cx="536.04" cy="134.79" r="1.95" stroke="#efae55"/><circle cx="580.64" cy="103.67" r="1.95" stroke="#efae55"/><circle cx="586.87" cy="107.82" r="1.95" stroke="#efae55"/><circle cx="593.09" cy="99.52" r="1.95" stroke="#efae55"/><circle cx="653.61" cy="8.3" r="1.95" stroke="#efae55"/><circle cx="655.68" cy="20.75" r="1.95" stroke="#efae55"/><circle cx="634.11" cy="28.63" r="1.95" stroke="#efae55"/><circle cx="621.04" cy="34.23" r="1.95" stroke="#efae55"/><circle cx="628.3" cy="38.38" r="1.95" stroke="#efae55"/><circle cx="634.52" cy="41.49" r="1.95" stroke="#efae55"/><circle cx="635.56" cy="46.68" r="1.95" stroke="#efae55"/><circle cx="627.26" cy="44.61" r="1.95" stroke="#efae55"/><circle cx="622.07" cy="45.64" r="1.95" stroke="#efae55"/><circle cx="638.67" cy="49.79" r="1.95" stroke="#efae55"/><circle cx="624.15" cy="59.71" r="1.95" stroke="#efae55"/><circle cx="627.26" cy="66.97" r="1.95" stroke="#efae55"/><circle cx="622.07" cy="65.93" r="1.95" stroke="#efae55"/><circle cx="636.6" cy="72.16" r="1.95" stroke="#efae55"/><circle cx="621.04" cy="73.2" r="1.95" stroke="#efae55"/><circle cx="622.07" cy="76.31" r="1.95" stroke="#efae55"/><circle cx="628.3" cy="78.38" r="1.95" stroke="#efae55"/><circle cx="623.11" cy="82.53" r="1.95" stroke="#efae55"/><circle cx="630.37" cy="86.68" r="1.95" stroke="#efae55"/><circle cx="624.15" cy="89.79" r="1.95" stroke="#efae55"/><circle cx="655.27" cy="74.23" r="1.95" stroke="#efae55"/><circle cx="604.9" cy="89.52" r="1.95" stroke="#efae55"/><circle cx="611.12" cy="87.45" r="1.95" stroke="#efae55"/><circle cx="623.57" cy="90.56" r="1.95" stroke="#efae55"/><circle cx="629.79" cy="86.41" r="1.95" stroke="#efae55"/><circle cx="611.12" cy="93.67" r="1.95" stroke="#efae55"/><circle cx="601.78" cy="100.93" r="1.95" stroke="#efae55"/><circle cx="612.16" cy="104.05" r="1.95" stroke="#efae55"/><circle cx="600.75" cy="105.08" r="1.95" stroke="#efae55"/><circle cx="601.78" cy="110.27" r="1.95" stroke="#efae55"/><circle cx="612.16" cy="112.34" r="1.95" stroke="#efae55"/><circle cx="636.02" cy="99.9" r="1.95" stroke="#efae55"/><circle cx="629.79" cy="113.38" r="1.95" stroke="#efae55"/><circle cx="553.49" cy="145.75" r="1.95" stroke="#efae55"/><circle cx="557.63" cy="155.71" r="1.95" stroke="#efae55"/><circle cx="588.13" cy="145.12" r="1.95" stroke="#efae55"/><circle cx="583.57" cy="165.46" r="1.95" stroke="#efae55"/><circle cx="590.83" cy="165.46" r="1.95" stroke="#efae55"/><circle cx="542.07" cy="141.6" r="1.95" stroke="#efae55"/><circle cx="492.99" cy="186.7" r="1.95" stroke="#efae55"/><circle cx="497.52" cy="188.4" r="1.95" stroke="#efae55"/><circle cx="501.48" cy="186.7" r="1.95" stroke="#efae55"/><circle cx="479.96" cy="193.49" r="1.95" stroke="#efae55"/><circle cx="483.93" cy="191.8" r="1.95" stroke="#efae55"/><circle cx="487.33" cy="190.1" r="1.95" stroke="#efae55"/><circle cx="490.72" cy="190.66" r="1.95" stroke="#efae55"/><circle cx="494.69" cy="190.1" r="1.95" stroke="#efae55"/><circle cx="498.65" cy="191.8" r="1.95" stroke="#efae55"/><circle cx="503.18" cy="190.1" r="1.95" stroke="#efae55"/><circle cx="481.1" cy="196.33" r="1.95" stroke="#efae55"/><circle cx="485.06" cy="195.76" r="1.95" stroke="#efae55"/><circle cx="489.02" cy="195.19" r="1.95" stroke="#efae55"/><circle cx="492.99" cy="194.63" r="1.95" stroke="#efae55"/><circle cx="496.95" cy="194.06" r="1.95" stroke="#efae55"/><circle cx="500.92" cy="194.06" r="1.95" stroke="#efae55"/><circle cx="481.1" cy="199.72" r="1.95" stroke="#efae55"/><circle cx="485.06" cy="199.16" r="1.95" stroke="#efae55"/><circle cx="489.02" cy="198.59" r="1.95" stroke="#efae55"/><circle cx="492.99" cy="198.02" r="1.95" stroke="#efae55"/><circle cx="497.52" cy="197.46" r="1.95" stroke="#efae55"/><circle cx="478.27" cy="199.72" r="1.95" stroke="#efae55"/><circle cx="480.53" cy="203.69" r="1.95" stroke="#efae55"/><circle cx="484.49" cy="203.12" r="1.95" stroke="#efae55"/><circle cx="488.46" cy="202.55" r="1.95" stroke="#efae55"/><circle cx="492.99" cy="201.99" r="1.95" stroke="#efae55"/><circle cx="496.95" cy="201.42" r="1.95" stroke="#efae55"/><circle cx="478.27" cy="204.25" r="1.95" stroke="#efae55"/><circle cx="480.53" cy="207.08" r="1.95" stroke="#efae55"/><circle cx="484.49" cy="207.08" r="1.95" stroke="#efae55"/><circle cx="488.46" cy="205.95" r="1.95" stroke="#efae55"/><circle cx="492.42" cy="205.39" r="1.95" stroke="#efae55"/><circle cx="495.82" cy="204.82" r="1.95" stroke="#efae55"/><circle cx="479.4" cy="211.05" r="1.95" stroke="#efae55"/><circle cx="483.36" cy="210.48" r="1.95" stroke="#efae55"/><circle cx="487.33" cy="209.35" r="1.95" stroke="#efae55"/><circle cx="478.27" cy="213.31" r="1.95" stroke="#efae55"/><circle cx="481.66" cy="212.75" r="1.95" stroke="#efae55"/><circle cx="506.99" cy="165.66" r="1.95" stroke="#efae55"/><circle cx="510.39" cy="163.96" r="1.95" stroke="#efae55"/><circle cx="512.65" cy="161.7" r="1.95" stroke="#efae55"/><circle cx="519.45" cy="162.83" r="1.95" stroke="#efae55"/><circle cx="522.84" cy="161.7" r="1.95" stroke="#efae55"/><circle cx="518.88" cy="166.8" r="1.95" stroke="#efae55"/><circle cx="522.84" cy="166.8" r="1.95" stroke="#efae55"/><circle cx="510.95" cy="167.93" r="1.95" stroke="#efae55"/><circle cx="514.35" cy="170.19" r="1.95" stroke="#efae55"/><circle cx="518.31" cy="170.19" r="1.95" stroke="#efae55"/><circle cx="508.12" cy="172.46" r="1.95" stroke="#efae55"/><circle cx="511.52" cy="174.16" r="1.95" stroke="#efae55"/><circle cx="514.92" cy="174.72" r="1.95" stroke="#efae55"/><circle cx="519.45" cy="173.59" r="1.95" stroke="#efae55"/><circle cx="505.86" cy="176.42" r="1.95" stroke="#efae55"/><circle cx="509.82" cy="176.99" r="1.95" stroke="#efae55"/><circle cx="513.78" cy="178.12" r="1.95" stroke="#efae55"/><circle cx="507.55" cy="179.82" r="1.95" stroke="#efae55"/><circle cx="512.08" cy="181.52" r="1.95" stroke="#efae55"/><circle cx="520.58" cy="182.08" r="1.95" stroke="#efae55"/><circle cx="496.23" cy="182.65" r="1.95" stroke="#efae55"/><circle cx="499.63" cy="182.08" r="1.95" stroke="#efae55"/><circle cx="504.16" cy="184.01" r="1.95" stroke="#efae55"/><circle cx="506.99" cy="183.22" r="1.95" stroke="#efae55"/><circle cx="522.28" cy="184.01" r="1.95" stroke="#efae55"/><circle cx="521.99" cy="145.19" r="1.95" stroke="#efae55"/><circle cx="537.84" cy="141.8" r="1.95" stroke="#efae55"/><circle cx="536.71" cy="145.19" r="1.95" stroke="#efae55"/><circle cx="533.31" cy="147.46" r="1.95" stroke="#efae55"/><circle cx="529.35" cy="149.16" r="1.95" stroke="#efae55"/><circle cx="525.95" cy="150.29" r="1.95" stroke="#efae55"/><circle cx="523.12" cy="151.99" r="1.95" stroke="#efae55"/><circle cx="519.72" cy="154.82" r="1.95" stroke="#efae55"/><circle cx="509.53" cy="157.08" r="1.95" stroke="#efae55"/><circle cx="512.36" cy="159.92" r="1.95" stroke="#efae55"/><circle cx="525.39" cy="154.25" r="1.95" stroke="#efae55"/><circle cx="528.78" cy="153.69" r="1.95" stroke="#efae55"/><circle cx="532.18" cy="153.12" r="1.95" stroke="#efae55"/><circle cx="535.58" cy="150.86" r="1.95" stroke="#efae55"/><circle cx="538.98" cy="148.59" r="1.95" stroke="#efae55"/><circle cx="521.99" cy="157.65" r="1.95" stroke="#efae55"/><circle cx="527.08" cy="157.08" r="1.95" stroke="#efae55"/><circle cx="531.05" cy="156.52" r="1.95" stroke="#efae55"/><circle cx="535.01" cy="155.39" r="1.95" stroke="#efae55"/><circle cx="538.41" cy="153.69" r="1.95" stroke="#efae55"/><circle cx="524.25" cy="160.48" r="1.95" stroke="#efae55"/><circle cx="529.35" cy="159.92" r="1.95" stroke="#efae55"/><circle cx="536.71" cy="158.78" r="1.95" stroke="#efae55"/><circle cx="533.31" cy="159.35" r="1.95" stroke="#efae55"/><circle cx="527.93" cy="121.33" r="1.95" stroke="#efae55"/><circle cx="539.82" cy="119.63" r="1.95" stroke="#efae55"/><circle cx="536.99" cy="137.75" r="1.95" stroke="#efae55"/><circle cx="539.82" cy="137.75" r="1.95" stroke="#efae55"/><circle cx="541.61" cy="144.53" r="1.95" stroke="#efae55"/><circle cx="540.48" cy="150.76" r="1.95" stroke="#efae55"/><circle cx="526.33" cy="166.05" r="1.95" stroke="#efae55"/><circle cx="481.28" cy="178.38" r="1.95" stroke="#efae55"/><circle cx="528.49" cy="190.71" r="1.95" stroke="#efae55"/><circle cx="522.26" cy="198.38" r="1.95" stroke="#efae55"/><circle cx="528.49" cy="174.52" r="1.95" stroke="#efae55"/><circle cx="517.07" cy="188.01" r="1.95" stroke="#efae55"/><circle cx="577.16" cy="81.06" r="1.95" stroke="#efae55"/><circle cx="578.2" cy="84.79" r="1.95" stroke="#efae55"/><circle cx="525.15" cy="93.48" r="1.95" stroke="#efae55"/><circle cx="525.71" cy="103.1" r="1.95" stroke="#efae55"/><circle cx="526.28" cy="107.06" r="1.95" stroke="#efae55"/><circle cx="540.09" cy="74.43" r="1.95" stroke="#efae55"/><circle cx="536.7" cy="77.83" r="1.95" stroke="#efae55"/><circle cx="539.53" cy="77.83" r="1.95" stroke="#efae55"/><circle cx="536.7" cy="84.81" r="1.95" stroke="#efae55"/><circle cx="539.53" cy="89.15" r="1.95" stroke="#efae55"/><circle cx="536.13" cy="103.11" r="1.95" stroke="#efae55"/><circle cx="537.26" cy="105.57" r="1.95" stroke="#efae55"/><circle cx="537.64" cy="114.43" r="1.95" stroke="#efae55"/><circle cx="561.97" cy="107.82" r="1.95" stroke="#efae55"/><circle cx="561.97" cy="114.05" r="1.95" stroke="#efae55"/><circle cx="573.38" cy="94.34" r="1.95" stroke="#efae55"/><circle cx="574.42" cy="103.67" r="1.95" stroke="#efae55"/><circle cx="573.38" cy="114.05" r="1.95" stroke="#efae55"/><circle cx="570.27" cy="119.23" r="1.95" stroke="#efae55"/><circle cx="577.53" cy="98.49" r="1.95" stroke="#efae55"/><circle cx="576.49" cy="107.82" r="1.95" stroke="#efae55"/><circle cx="579.61" cy="114.05" r="1.95" stroke="#efae55"/><circle cx="586.87" cy="92.26" r="1.95" stroke="#efae55"/><circle cx="587.9" cy="100.56" r="1.95" stroke="#efae55"/><circle cx="585.83" cy="109.9" r="1.95" stroke="#efae55"/><circle cx="594.13" cy="89.15" r="1.95" stroke="#efae55"/><circle cx="596.2" cy="94.34" r="1.95" stroke="#efae55"/><circle cx="593.09" cy="107.82" r="1.95" stroke="#efae55"/><circle cx="550.56" cy="121.31" r="1.95" stroke="#efae55"/><circle cx="550.56" cy="129.61" r="1.95" stroke="#efae55"/><circle cx="537.07" cy="134.79" r="1.95" stroke="#efae55"/><circle cx="628.38" cy="49.71" r="1.95" stroke="#efae55"/><circle cx="630.46" cy="61.12" r="1.95" stroke="#efae55"/><circle cx="625.27" cy="56.97" r="1.95" stroke="#efae55"/><circle cx="616.97" cy="53.86" r="1.95" stroke="#efae55"/><circle cx="619.05" cy="68.38" r="1.95" stroke="#efae55"/><circle cx="608.67" cy="66.31" r="1.95" stroke="#efae55"/><circle cx="624.23" cy="71.49" r="1.95" stroke="#efae55"/><circle cx="620.08" cy="74.61" r="1.95" stroke="#efae55"/><circle cx="610.75" cy="71.49" r="1.95" stroke="#efae55"/><circle cx="607.63" cy="81.87" r="1.95" stroke="#efae55"/><circle cx="623.2" cy="83.94" r="1.95" stroke="#efae55"/><circle cx="593.11" cy="76.68" r="1.95" stroke="#efae55"/><circle cx="510.37" cy="167.07" r="1.95" stroke="#efae55"/><circle cx="515.47" cy="170.47" r="1.95" stroke="#efae55"/><circle cx="508.68" cy="173.86" r="1.95" stroke="#efae55"/><circle cx="520.56" cy="175.56" r="1.95" stroke="#efae55"/><circle cx="523.96" cy="178.96" r="1.95" stroke="#efae55"/><circle cx="513.77" cy="178.96" r="1.95" stroke="#efae55"/><circle cx="517.16" cy="184.05" r="1.95" stroke="#efae55"/><circle cx="506.98" cy="182.35" r="1.95" stroke="#efae55"/><circle cx="529.05" cy="170.47" r="1.95" stroke="#efae55"/><circle cx="526.5" cy="174.71" r="1.95" stroke="#efae55"/><circle cx="506.13" cy="166.22" r="1.95" stroke="#efae55"/><circle cx="511.22" cy="161.13" r="1.95" stroke="#efae55"/><circle cx="519.71" cy="155.19" r="1.95" stroke="#efae55"/><circle cx="524.8" cy="151.79" r="1.95" stroke="#efae55"/><circle cx="481.74" cy="192.25" r="1.95" stroke="#efae55"/><circle cx="485.25" cy="195.76" r="1.95" stroke="#efae55"/><circle cx="480.56" cy="200.44" r="1.95" stroke="#efae55"/><circle cx="484.08" cy="203.96" r="1.95" stroke="#efae55"/><circle cx="486.42" cy="207.47" r="1.95" stroke="#efae55"/><circle cx="480.56" cy="209.81" r="1.95" stroke="#efae55"/><circle cx="488.76" cy="212.15" r="1.95" stroke="#efae55"/><circle cx="492.27" cy="200.44" r="1.95" stroke="#efae55"/><circle cx="495.79" cy="195.76" r="1.95" stroke="#efae55"/><circle cx="491.1" cy="193.42" r="1.95" stroke="#efae55"/><circle cx="482.91" cy="213.33" r="1.95" stroke="#efae55"/><circle cx="493.44" cy="208.64" r="1.95" stroke="#efae55"/><circle cx="498.13" cy="205.13" r="1.95" stroke="#efae55"/><circle cx="500.47" cy="200.44" r="1.95" stroke="#efae55"/><circle cx="479.39" cy="195.76" r="1.95" stroke="#efae55"/></g>
<line x1="462.8" y1="230.4" x2="683.9" y2="0.3" stroke="#1a1a1a" stroke-width="1.3" clip-path="url(#cr)"/>
<polygon points="539.5,67 546.1,100 531,112.2 517.5,96.3" fill="none" stroke="#f22" stroke-width="1.3" stroke-dasharray="5 4"/>
<polygon points="589,137.9 595.9,171.7 576.6,170.1" fill="none" stroke="#f22" stroke-width="1.3" stroke-dasharray="5 4"/>
<rect x="-4.7" y="-26" width="9.4" height="52" rx="4.7" transform="translate(642.6 92.8) rotate(35)" fill="none" stroke="#f22" stroke-width="1.3" stroke-dasharray="5 4"/>
<g font-family="Liberation Sans, sans-serif" stroke-width="0.18" font-size="7.2" font-weight="bold" fill="#f22" stroke="#f22">
<text x="501" y="110.8">Slab 7</text>
<text x="643.2" y="116.2">Slab 3</text>
<text x="579.2" y="184.6">Slab 5</text>
</g>
<rect x="470.4" y="4.4" width="170.2" height="70" fill="none" stroke="#777" stroke-width="0.9"/>
<circle cx="481.7" cy="10.9" r="1.95" fill="none" stroke="#43b3a3" stroke-width="1.2"/>
<circle cx="481.7" cy="22.6" r="1.95" fill="none" stroke="#efae55" stroke-width="1.2"/>
<line x1="471.6" y1="34.5" x2="491.6" y2="34.5" stroke="#1a1a1a" stroke-width="1.2"/>
<line x1="471.4" y1="45.3" x2="486.4" y2="45.3" stroke="#f22" stroke-width="1.3" stroke-dasharray="4.5 5.5"/>
<rect x="472.4" y="52.4" width="19.6" height="8.5" fill="#f3e8d9"/>
<g font-family="Liberation Sans, sans-serif" stroke-width="0.18" font-size="9.1" fill="#1a1a1a" stroke="#1a1a1a">
<text x="494.4" y="14.1">Training</text>
<text x="494.4" y="25.9">Testing, MAE = 2.69MPa, R<tspan font-size="6" dy="-3.4">2</tspan><tspan dy="3.4"> = 0.90</tspan></text>
<text x="494.4" y="37.6">Equality line</text>
<text x="494.4" y="49.1">Outlier in testing set</text>
<text x="494.4" y="59.7">95% prediction band</text>
<text x="472.4" y="70.9">10 - 500 kHz</text>
</g>
<path d="M462.8 0.3V230.4H683.9" fill="none" stroke="#111" stroke-width="1.5"/>
<line x1="683.9" y1="0" x2="683.9" y2="231.1" stroke="#111" stroke-width="2"/>
<line x1="462.8" y1="0.5" x2="683.9" y2="0.5" stroke="#111" stroke-width="1"/>
<path d="M462.8 214h3.3M478.8 230.4v-3.3M462.8 197.59h2M494.6 230.4v-2M462.8 181.17h3.3M510.4 230.4v-3.3M462.8 164.75h2M526.2 230.4v-2M462.8 148.34h3.3M542 230.4v-3.3M462.8 131.93h2M557.8 230.4v-2M462.8 115.51h3.3M573.6 230.4v-3.3M462.8 99.09h2M589.4 230.4v-2M462.8 82.68h3.3M605.2 230.4v-3.3M462.8 66.27h2M621 230.4v-2M462.8 49.85h3.3M636.8 230.4v-3.3M462.8 33.44h2M652.6 230.4v-2M462.8 17.02h3.3M668.4 230.4v-3.3M462.8 0.61h2M684.2 230.4v-2" stroke="#111" stroke-width="1.1" fill="none"/>
<g font-family="Liberation Sans, sans-serif" stroke-width="0.18" font-size="10.4" fill="#1a1a1a" stroke="#1a1a1a">
<text x="458.6" y="217.7" text-anchor="end">0</text>
<text x="478.8" y="243.8" text-anchor="middle">0</text>
<text x="458.6" y="184.87" text-anchor="end">10</text>
<text x="510.4" y="243.8" text-anchor="middle">10</text>
<text x="458.6" y="152.04" text-anchor="end">20</text>
<text x="542" y="243.8" text-anchor="middle">20</text>
<text x="458.6" y="119.21" text-anchor="end">30</text>
<text x="573.6" y="243.8" text-anchor="middle">30</text>
<text x="458.6" y="86.38" text-anchor="end">40</text>
<text x="605.2" y="243.8" text-anchor="middle">40</text>
<text x="458.6" y="53.55" text-anchor="end">50</text>
<text x="636.8" y="243.8" text-anchor="middle">50</text>
<text x="458.6" y="20.72" text-anchor="end">60</text>
<text x="668.4" y="243.8" text-anchor="middle">60</text>
</g>
<text font-family="Liberation Sans, sans-serif" stroke-width="0.18" font-size="12.1" x="473.6" y="262" fill="#1a1a1a" stroke="#1a1a1a">Cylinder compressive strength (MPa)</text>
<text font-family="Liberation Sans, sans-serif" stroke-width="0.18" font-size="12.2" transform="translate(442.3 115) rotate(-90)" text-anchor="middle" fill="#1a1a1a" stroke="#1a1a1a">Predicted (MPa)</text>
<text font-family="Liberation Sans, sans-serif" stroke-width="0.18" font-size="11" font-weight="bold" x="427.5" y="17.4" fill="#1a1a1a" stroke="#1a1a1a">(b)</text>
</svg>
</body></html>
